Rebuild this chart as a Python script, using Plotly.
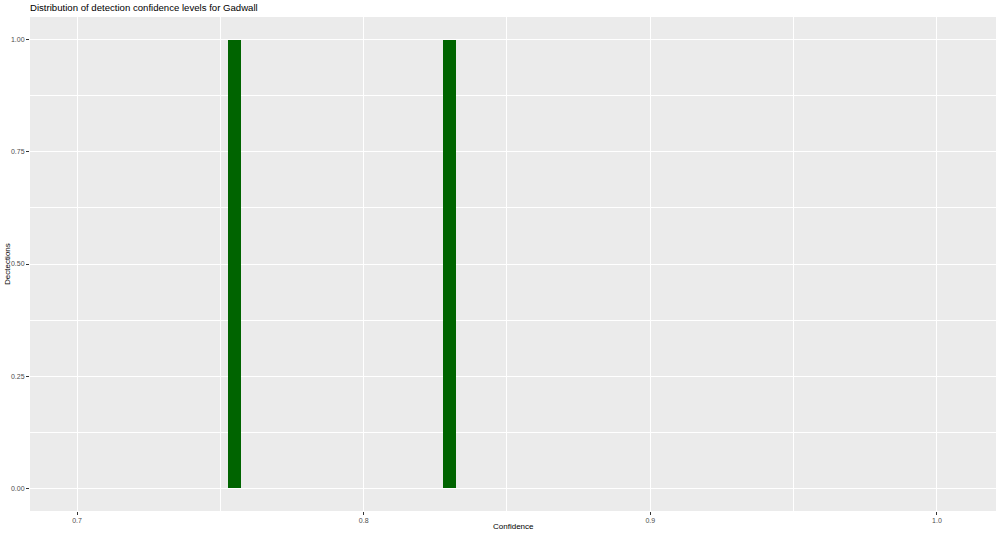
import plotly.graph_objects as go

# Data
confidence_bins = [0.755, 0.830]   # bin centers
detections = [1, 1]
bin_width = 0.0045

x_ticks = [0.7, 0.8, 0.9, 1.0]
x_tick_labels = ["0.7", "0.8", "0.9", "1.0"]
y_ticks = [0.0, 0.25, 0.5, 0.75, 1.0]
y_tick_labels = ["0.00", "0.25", "0.50", "0.75", "1.00"]

fig = go.Figure()
fig.add_trace(go.Bar(
    x=confidence_bins, y=detections, width=bin_width,
    marker=dict(color="#006400", line=dict(width=0)),
    showlegend=False, hoverinfo="skip",
))

font_family = "Liberation Sans, Arial, sans-serif"
W, H = 1000, 534
L, R, T, B = 30, 4, 17, 23
fig.update_layout(
    width=W, height=H,
    paper_bgcolor="white", plot_bgcolor="#EBEBEB",
    margin=dict(l=L, r=R, t=T, b=B, autoexpand=False),
    font=dict(family=font_family, color="#4D4D4D"),
    title=dict(text="Distribution of detection confidence levels for Gadwall",
               x=0.03, xref="container", xanchor="left",
               y=1 - 8 / H, yref="container", yanchor="middle",
               font=dict(size=9.6, color="black", family=font_family)),
    bargap=0,
    annotations=[
        dict(text="Confidence", xref="paper", yref="paper",
             x=0.5, y=-(526 - (H - B)) / (H - T - B), xanchor="center", yanchor="middle",
             showarrow=False, font=dict(size=8, color="black")),
        dict(text="Dectections", xref="paper", yref="paper",
             x=-(L - 7) / (W - L - R), y=0.5, xanchor="center", yanchor="middle",
             textangle=-90, showarrow=False, font=dict(size=8, color="black")),
    ],
)
fig.update_xaxes(
    range=[0.6836, 1.0206], tickvals=x_ticks, ticktext=x_tick_labels,
    automargin=False,
    showgrid=True, gridcolor="white", gridwidth=1.1,
    minor=dict(dtick=0.05, tick0=0.65, showgrid=True, gridcolor="white", gridwidth=0.5, ticks=""),
    ticks="outside", ticklen=3, tickcolor="#333333", tickwidth=1,
    tickfont=dict(size=7, color="#4D4D4D"),
    zeroline=False, showline=False,
)
fig.update_yaxes(
    range=[-0.051, 1.051], tickvals=y_ticks, ticktext=y_tick_labels,
    automargin=False,
    showgrid=True, gridcolor="white", gridwidth=1.1,
    minor=dict(dtick=0.125, tick0=0.125, showgrid=True, gridcolor="white", gridwidth=0.5, ticks=""),
    ticks="outside", ticklen=3, tickcolor="#333333", tickwidth=1,
    tickfont=dict(size=7, color="#4D4D4D"),
    zeroline=False, showline=False,
)

fig.write_html(
    "out.html",
    config={"displayModeBar": False},
    post_script="document.body.style.margin='0';document.body.style.overflow='hidden';",
)
